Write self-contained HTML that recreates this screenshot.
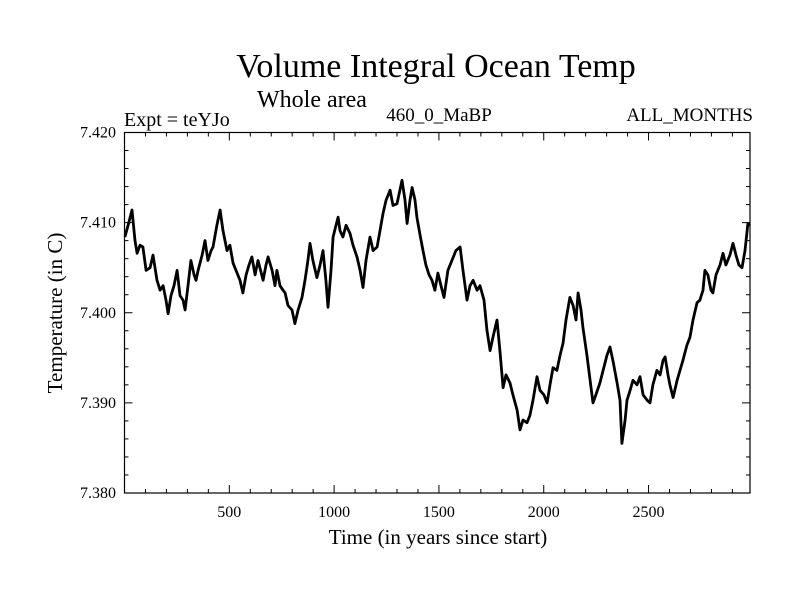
<!DOCTYPE html>
<html><head><meta charset="utf-8"><style>
body{margin:0;background:#fff}
svg text{font-family:"Liberation Serif",serif;fill:#000}
</style></head><body>
<svg id="chart" width="800" height="600" viewBox="0 0 800 600" xmlns="http://www.w3.org/2000/svg">
<text x="436" y="77" font-size="34" text-anchor="middle">Volume Integral Ocean Temp</text>
<text x="257" y="107" font-size="24">Whole area</text>
<text x="124" y="126" font-size="20">Expt = teYJo</text>
<text x="439" y="121" font-size="19" text-anchor="middle">460_0_MaBP</text>
<text x="753" y="121" font-size="19" text-anchor="end">ALL_MONTHS</text>
<text x="438" y="544" font-size="21" text-anchor="middle">Time (in years since start)</text>
<text x="0" y="0" font-size="21" text-anchor="middle" transform="translate(62,313) rotate(-90)">Temperature (in C)</text>
<g id="axes"></g>
<path id="series" fill="none" stroke="#000" stroke-width="2.8" stroke-linejoin="round"/>
<rect x="124.5" y="132.5" width="625.5" height="360.5" fill="none" stroke="#000" stroke-width="1.2"/>
</svg>
<script>
const years=[2,17,36,50,60,74,88,103,122,136,155,170,184,198,208,222,236,251,265,279,289,303,317,332,341,351,370,384,398,413,422,441,456,470,489,503,518,532,551,565,580,594,608,623,637,646,661,675,685,704,718,727,742,756,766,780,799,813,828,847,861,875,885,899,918,933,947,961,971,985,995,1009,1019,1028,1042,1057,1076,1090,1109,1124,1138,1152,1171,1186,1205,1219,1233,1248,1267,1281,1300,1314,1324,1338,1348,1362,1372,1386,1395,1410,1424,1438,1453,1467,1481,1495,1510,1524,1543,1562,1581,1601,1615,1634,1648,1663,1682,1696,1715,1729,1744,1758,1777,1791,1806,1820,1839,1853,1873,1887,1901,1920,1934,1949,1968,1982,2001,2016,2030,2044,2063,2078,2092,2106,2125,2140,2154,2164,2178,2187,2206,2221,2235,2249,2268,2283,2302,2316,2330,2350,2364,2373,2388,2397,2412,2426,2445,2459,2474,2493,2507,2521,2540,2555,2569,2579,2593,2602,2617,2636,2650,2664,2683,2698,2712,2731,2745,2760,2769,2783,2798,2807,2822,2841,2855,2869,2888,2903,2917,2931,2946,2960,2974,2984];
const temps=[7.4084,7.4097,7.4114,7.4080,7.4066,7.4075,7.4073,7.4047,7.4050,7.4064,7.4036,7.4025,7.4030,7.4014,7.3999,7.4019,7.4030,7.4047,7.4019,7.4014,7.4003,7.4030,7.4058,7.4042,7.4036,7.4047,7.4064,7.4080,7.4058,7.4069,7.4073,7.4097,7.4114,7.4091,7.4069,7.4075,7.4055,7.4047,7.4036,7.4022,7.4042,7.4053,7.4062,7.4042,7.4058,7.4050,7.4036,7.4053,7.4062,7.4047,7.4030,7.4047,7.4030,7.4025,7.4022,7.4008,7.4003,7.3988,7.4003,7.4017,7.4036,7.4058,7.4077,7.4058,7.4039,7.4053,7.4069,7.4036,7.4006,7.4047,7.4084,7.4097,7.4106,7.4091,7.4084,7.4097,7.4088,7.4075,7.4062,7.4047,7.4028,7.4058,7.4084,7.4069,7.4073,7.4091,7.4110,7.4125,7.4136,7.4119,7.4121,7.4136,7.4147,7.4125,7.4099,7.4125,7.4139,7.4125,7.4106,7.4086,7.4069,7.4053,7.4042,7.4036,7.4025,7.4044,7.4030,7.4017,7.4047,7.4058,7.4069,7.4073,7.4047,7.4014,7.4030,7.4036,7.4025,7.4030,7.4014,7.3981,7.3958,7.3973,7.3992,7.3958,7.3917,7.3931,7.3922,7.3909,7.3892,7.3870,7.3881,7.3878,7.3886,7.3903,7.3929,7.3914,7.3909,7.3900,7.3920,7.3939,7.3936,7.3953,7.3966,7.3992,7.4017,7.4008,7.3992,7.4022,7.4003,7.3984,7.3953,7.3925,7.3900,7.3909,7.3922,7.3936,7.3953,7.3962,7.3947,7.3922,7.3903,7.3855,7.3881,7.3903,7.3914,7.3925,7.3920,7.3929,7.3909,7.3903,7.3900,7.3920,7.3936,7.3931,7.3947,7.3951,7.3931,7.3920,7.3906,7.3925,7.3936,7.3947,7.3964,7.3973,7.3992,7.4011,7.4014,7.4025,7.4047,7.4042,7.4025,7.4022,7.4042,7.4053,7.4066,7.4053,7.4064,7.4077,7.4064,7.4053,7.4050,7.4069,7.4099,7.4097];
const yTicks=[7.380,7.390,7.400,7.410,7.420];
const xTicks=[500,1000,1500,2000,2500];
const X0=124.5,X1=750,Y0=493,Y1=132.5,XMAX=2984,YMIN=7.380,YMAX=7.420;
function sx(v){return X0+(v/XMAX)*(X1-X0);}
function sy(v){return Y0-(v-YMIN)/(YMAX-YMIN)*(Y0-Y1);}
const NS="http://www.w3.org/2000/svg";
const axes=document.getElementById('axes');
function ln(x1,y1,x2,y2,name){const l=document.createElementNS(NS,'line');l.setAttribute('x1',x1);l.setAttribute('y1',y1);l.setAttribute('x2',x2);l.setAttribute('y2',y2);l.setAttribute('stroke','#000');l.setAttribute('stroke-width','1');


axes.appendChild(l);}
function tx(x,y,s,anchor,name){const t=document.createElementNS(NS,'text');t.setAttribute('x',x);t.setAttribute('y',y);t.setAttribute('font-size','16');t.setAttribute('text-anchor',anchor);t.textContent=s;


axes.appendChild(t);}
for(let v=100;v<XMAX;v+=100){const x=sx(v);const major=v%500===0;const L=major?8:4;ln(x,Y0,x,Y0-L,'x-tick');ln(x,Y1,x,Y1+L,'x-tick-top');}
xTicks.forEach(v=>tx(sx(v),517,String(v),'middle','x-tick-label'));
for(let i=0;i<=20;i++){const v=YMIN+i*0.002;const y=sy(v);const major=i%5===0;const L=major?8:4;ln(X0,y,X0+L,y,'y-tick');ln(X1,y,X1-L,y,'y-tick-right');}
yTicks.forEach(v=>tx(116,sy(v)+5,v.toFixed(3),'end','y-tick-label'));
let d='';years.forEach((yr,i)=>{d+=(i?'L':'M')+sx(yr).toFixed(1)+','+sy(temps[i]).toFixed(1);});
document.getElementById('series').setAttribute('d',d);
</script>
</body></html>
